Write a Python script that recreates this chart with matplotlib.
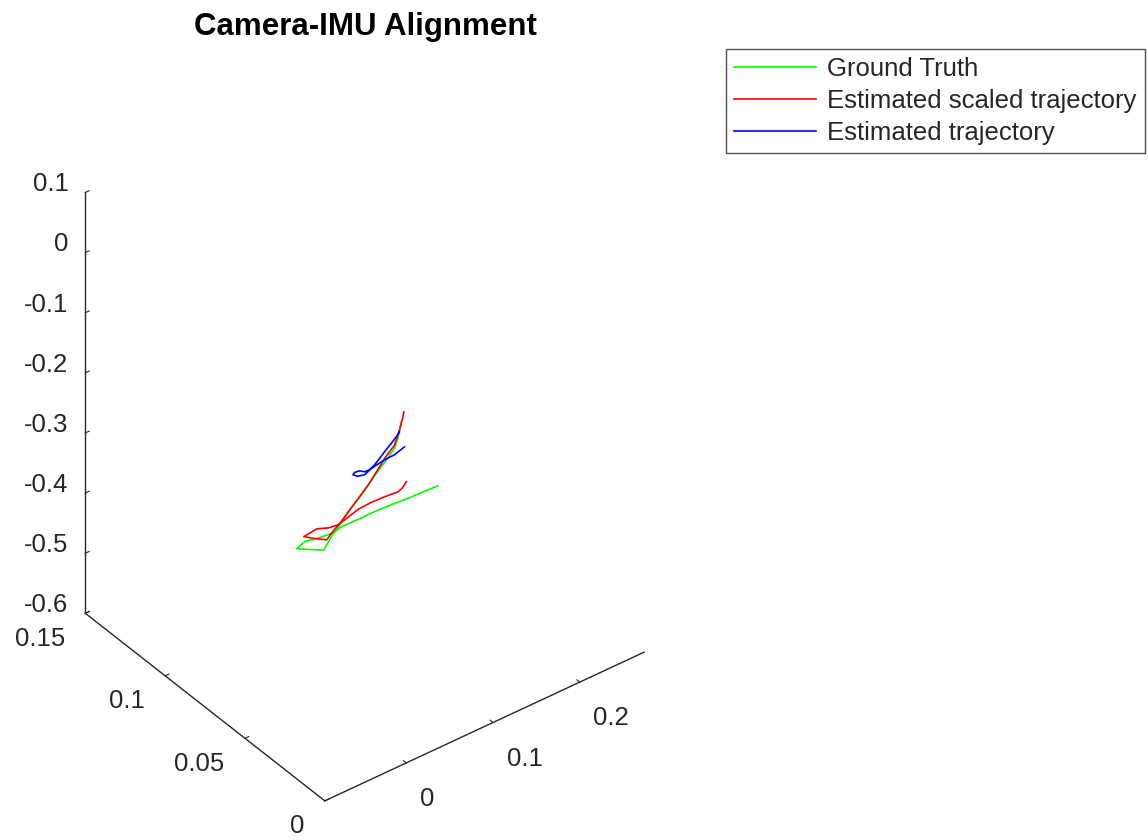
import matplotlib
matplotlib.use("Agg")
import matplotlib.pyplot as plt
import numpy as np

# ---------------- data ----------------
gt_x = [0.0861, 0.0822, 0.0784, 0.0689, 0.0574, 0.0474, 0.0367, 0.0255, 0.0163, 0.0071,
        -0.0032, -0.0193, -0.0342, -0.0250, -0.0078, 0.0083, 0.0175, 0.0359, 0.0554,
        0.0750, 0.0945, 0.1117, 0.1286]
gt_y = [0.05] * 23
gt_z = [-0.1947, -0.2198, -0.2338, -0.2466, -0.2611, -0.2748, -0.2892, -0.3032, -0.3170,
        -0.3290, -0.3478, -0.3362, -0.3245, -0.3190, -0.3240, -0.3265, -0.3227, -0.3235,
        -0.3233, -0.3248, -0.3272, -0.3280, -0.3294]

sc_x = [0.0891, 0.0880, 0.0842, 0.0784, 0.0669, 0.0577, 0.0482, 0.0367, 0.0252, 0.0155,
        0.0071, 0.0003, -0.0135, -0.0262, -0.0112, 0.0022, 0.0140, 0.0367, 0.0520,
        0.0673, 0.0827, 0.0876, 0.0922]
sc_y = [0.05] * 23
sc_z = [-0.1801, -0.1885, -0.2066, -0.2282, -0.2427, -0.2585, -0.2742, -0.2887, -0.3030,
        -0.3159, -0.3241, -0.3332, -0.3218, -0.3100, -0.3072, -0.3146, -0.3171, -0.3066,
        -0.3053, -0.3064, -0.3085, -0.3051, -0.2983]

est_x = [0.0842, 0.0804, 0.0746, 0.0669, 0.0612, 0.0554, 0.0497, 0.0439, 0.0382, 0.0324,
         0.0305, 0.0359, 0.0439, 0.0516, 0.0669, 0.0784, 0.0899]
est_y = [0.05] * 17
est_z = [-0.2100, -0.2157, -0.2229, -0.2315, -0.2388, -0.2454, -0.2498, -0.2493, -0.2438,
         -0.2427, -0.2452, -0.2513, -0.2542, -0.2490, -0.2448, -0.2442, -0.2387]

series_names = ["Ground Truth", "Estimated scaled trajectory", "Estimated trajectory"]
series_colors = ["#00ff00", "#ff0000", "#0000ff"]

x_ticks = [0, 0.1, 0.2]
x_ticklabels = ["0", "0.1", "0.2"]
y_ticks = [0, 0.05, 0.1, 0.15]
y_ticklabels = ["0", "0.05", "0.1", "0.15"]
z_ticks = [-0.6, -0.5, -0.4, -0.3, -0.2, -0.1, 0, 0.1]
z_ticklabels = ["-0.6", "-0.5", "-0.4", "-0.3", "-0.2", "-0.1", "0", "0.1"]
x_lim = (-0.094, 0.274)
y_lim = (0.0, 0.15)
z_lim = (-0.6, 0.1)

# ---------------- figure ----------------
plt.rcParams['font.family'] = ['Liberation Sans', 'DejaVu Sans']
W, H = 1148, 840
fig = plt.figure(figsize=(W / 100, H / 100), dpi=100)

side = 640
cx, cy = 356, 431
ax = fig.add_axes([(cx - side / 2) / W, (H - cy - side / 2) / H, side / W, side / H],
                  projection='3d', proj_type='ortho')
ax.view_init(elev=37.15, azim=-127.64)
ax.set_box_aspect((1.0, 0.973, 1.31), zoom=1.17)

for xs, ys, zs, c, n in [(gt_x, gt_y, gt_z, series_colors[0], series_names[0]),
                         (sc_x, sc_y, sc_z, series_colors[1], series_names[1]),
                         (est_x, est_y, est_z, series_colors[2], series_names[2])]:
    ax.plot(xs, ys, zs, color=c, lw=1.2, label=n)

ax.set_xlim(*x_lim)
ax.set_ylim(*y_lim)
ax.set_zlim(*z_lim)
ax.set_xticks(x_ticks)
ax.set_xticklabels(x_ticklabels, ha='left', va='top')
ax.set_yticks(y_ticks)
ax.set_yticklabels(y_ticklabels, ha='right', va='top')
ax.set_zticks(z_ticks)
ax.set_zticklabels(z_ticklabels, ha='right', va='baseline')

# MATLAB-like placement of tick labels (weights of the offset directions)
if hasattr(ax.xaxis, '_axmask'):
    ax.xaxis._axmask = lambda: [0.0, 1.0, 0.58]
    ax.yaxis._axmask = lambda: [1.0, 0.0, 0.15]

ax.grid(False)
axis_col = (0.15, 0.15, 0.15)
for axis in (ax.xaxis, ax.yaxis, ax.zaxis):
    axis.set_pane_color((1, 1, 1, 0))
    axis.pane.set_edgecolor((1, 1, 1, 0))
    axis.line.set_color(axis_col)
    axis.line.set_linewidth(1.0)
    axis._axinfo['tick']['inward_factor'] = 0.0
    axis._axinfo['tick']['outward_factor'] = 0.15
    axis._axinfo['tick']['color'] = axis_col
ax.tick_params(labelsize=18.5, colors=axis_col, width=1.0)
ax.tick_params(axis='x', pad=5.5)
ax.tick_params(axis='y', pad=7.4)
ax.tick_params(axis='z', pad=-0.8)
for lbl in ax.get_xticklabels() + ax.get_yticklabels() + ax.get_zticklabels():
    lbl.set_color(axis_col)

fig.text(365 / W, 1 - 27 / H, "Camera-IMU Alignment", ha='center', va='center',
         fontsize=22.5, fontweight='bold', color='black')

leg = fig.legend(loc='upper left', bbox_to_anchor=(726 / W, 1 - 49 / H),
                 bbox_transform=fig.transFigure, borderaxespad=0, fontsize=18.5,
                 handlelength=3.2, handletextpad=0.42, labelspacing=0.3,
                 borderpad=0.32, fancybox=False, frameon=True)
leg.get_frame().set_edgecolor(axis_col)
leg.get_frame().set_linewidth(1.0)
for t in leg.get_texts():
    t.set_color(axis_col)

fig.savefig("out.png", dpi=100)
